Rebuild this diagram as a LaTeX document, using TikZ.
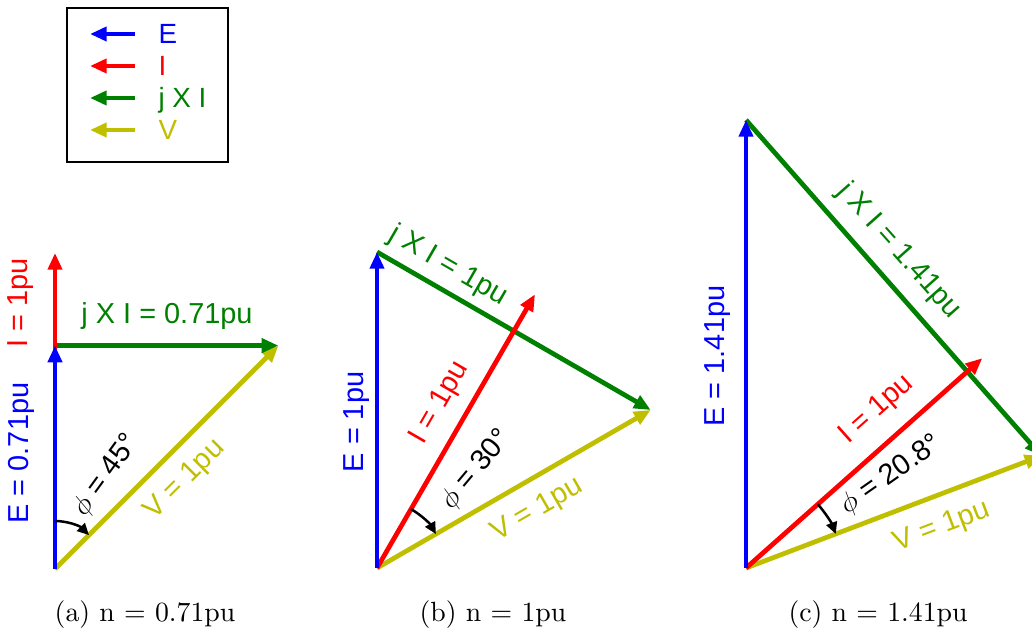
\documentclass[tikz,border=0pt]{standalone}
\usepackage{fontspec}
\newfontfamily\labelfont{Liberation Sans}
\usepackage{xcolor}
\definecolor{vecE}{HTML}{0000FF}
\definecolor{vecI}{HTML}{FF0000}
\definecolor{vecX}{HTML}{008000}
\definecolor{vecV}{HTML}{BFBF00}
\usepackage{tikz}
\usetikzlibrary{arrows.meta}

\begin{document}
\begin{tikzpicture}[x=0.36pt,y=0.36pt,
  vec/.style={line width=1.7pt,-{Triangle[length=6pt,width=5pt]}},
  ang/.style={line width=0.9pt,-{Triangle[length=4.2pt,width=4pt]}},
  lab/.style={font=\labelfont\fontsize{10.4}{12}\selectfont,inner sep=0pt},
  key/.style={font=\labelfont\fontsize{10}{12}\selectfont,inner sep=0pt,anchor=base west},
  captext/.style={font=\normalsize,inner sep=0pt}]
\clip (0,0) rectangle (1032,633);
% legend
\coordinate (LL) at (67,471);
\coordinate (UR) at (228,625);
\draw[line width=0.6pt] (LL) rectangle (UR);
\foreach \c/\t [count=\k] in {vecE/E,vecI/I,vecX/j X I,vecV/V}{
  \coordinate (k\k a) at (135,{631-32*\k});
  \coordinate (k\k b) at (90,{631-32*\k});
  \draw[vec,\c] (k\k a) -- (k\k b);
  \node[key,text=\c] (k\k t) at (158,{621-32*\k}) {\t};
}
% (a) n = 0.71pu
\coordinate (Oa) at (55,64);
\coordinate (Ea) at (55,287.4);
\coordinate (Ia) at (55,380);
\coordinate (Va) at (278.4,287.4);
\draw[vec,vecV] (Oa) -- (Va);
\draw[vec,vecX] (Ea) -- (Va);
\draw[vec,vecI] (Oa) -- (Ia);
\draw[vec,vecE] (Oa) -- (Ea);
\draw[ang] ([shift={(90:48)}]Oa) arc[start angle=90,end angle=45,radius=48];
\node[lab,rotate=90,text=vecI] (la1) at (21,330) {I = 1pu};
\node[lab,rotate=90,text=vecE] (la2) at (21,180) {E = 0.71pu};
\node[lab,text=vecX] (la3) at (167,317) {j X I = 0.71pu};
\node[lab,rotate=45,text=vecV] (la4) at (185,153) {V = 1pu};
\node[lab,rotate=54] (la5) at (106,158) {$\phi$ = 45°};
\node[captext] (ca) at (145,18) {(a) n = 0.71pu};
% (b) n = 1pu
\coordinate (Ob) at (377,65);
\coordinate (Eb) at (377,381);
\coordinate (Ib) at (535,338.7);
\coordinate (Vb) at (650.7,223);
\draw[vec,vecV] (Ob) -- (Vb);
\draw[vec,vecX] (Eb) -- (Vb);
\draw[vec,vecI] (Ob) -- (Ib);
\draw[vec,vecE] (Ob) -- (Eb);
\draw[ang] ([shift={(60:68)}]Ob) arc[start angle=60,end angle=30,radius=68];
\node[lab,rotate=90,text=vecE] (lb1) at (357,211) {E = 1pu};
\node[lab,rotate=60,text=vecI] (lb2) at (440,230) {I = 1pu};
\node[lab,rotate=-30,text=vecX] (lb3) at (448,367) {j X I = 1pu};
\node[lab,rotate=30,text=vecV] (lb4) at (537,123) {V = 1pu};
\node[lab,rotate=50] (lb5) at (476,163) {$\phi$ = 30°};
\node[captext] (cb) at (493,18) {(b) n = 1pu};
% (c) n = 1.41pu
\coordinate (Oc) at (746,65);
\coordinate (Ec) at (746,513);
\coordinate (Ic) at (982.3,274.8);
\coordinate (Vc) at (1041.4,177.2);
\draw[vec,vecV] (Oc) -- (Vc);
\draw[vec,vecX] (Ec) -- (Vc);
\draw[vec,vecI] (Oc) -- (Ic);
\draw[vec,vecE] (Oc) -- (Ec);
\draw[ang] ([shift={(41.6:96)}]Oc) arc[start angle=41.6,end angle=20.8,radius=96];
\node[lab,rotate=90,text=vecE] (lc1) at (718,277) {E = 1.41pu};
\node[lab,rotate=-48.4,text=vecX] (lc2) at (899,382) {j X I = 1.41pu};
\node[lab,rotate=41.6,text=vecI] (lc3) at (877,223) {I = 1pu};
\node[lab,rotate=35] (lc4) at (891,158) {$\phi$ = 20.8°};
\node[lab,rotate=20.8,text=vecV] (lc5) at (942,106) {V = 1pu};
\node[captext] (cc) at (878,18) {(c) n = 1.41pu};
\end{tikzpicture}
\end{document}
